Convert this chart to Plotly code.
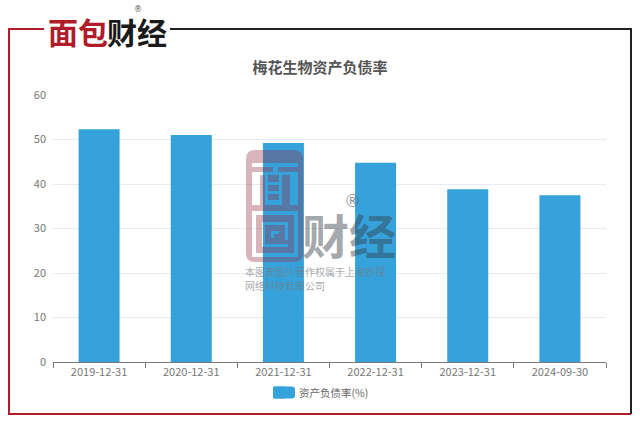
import plotly.graph_objects as go

categories = ["2019-12-31", "2020-12-31", "2021-12-31", "2022-12-31", "2023-12-31", "2024-09-30"]
debt_ratio = [52.3, 51.0, 49.2, 44.8, 38.8, 37.5]
series_name = "资产负债率(%)"
title = "梅花生物资产负债率"
y_ticks = [0, 10, 20, 30, 40, 50, 60]
FONT = "Noto Sans CJK SC, Noto Sans, sans-serif"
W, H = 640, 424
L, R, T, B = 53, 606, 95, 362
def px(x): return (x - L) / (R - L)
def py(y): return (B - y) / (B - T)

fig = go.Figure(go.Bar(x=categories, y=debt_ratio, name=series_name, marker=dict(color="#36a2dc", line_width=0)))

def line(x0, y0, x1, y1, color, width=2):
    return dict(type="line", xref="paper", yref="paper", x0=px(x0), y0=py(y0), x1=px(x1), y1=py(y1),
                line=dict(color=color, width=width), layer="above")
def rounded(x0, y0, x1, y1, r):
    return (f"M{px(x0+r)},{py(y0)} L{px(x1-r)},{py(y0)} Q{px(x1)},{py(y0)} {px(x1)},{py(y0+r)} "
            f"L{px(x1)},{py(y1-r)} Q{px(x1)},{py(y1)} {px(x1-r)},{py(y1)} L{px(x0+r)},{py(y1)} "
            f"Q{px(x0)},{py(y1)} {px(x0)},{py(y1-r)} L{px(x0)},{py(y0+r)} Q{px(x0)},{py(y0)} {px(x0+r)},{py(y0)} Z")
def rect(x0, y0, x1, y1):
    return f"M{px(x0)},{py(y0)} L{px(x1)},{py(y0)} L{px(x1)},{py(y1)} L{px(x0)},{py(y1)} Z"

RED = "#b01c2a"
PINK = "rgba(150,40,60,0.35)"
GREY = "rgba(50,60,70,0.45)"

# cut-outs of the watermark emblem (left, top, right, bottom in page pixels)
emblem_holes = [
    (252, 163, 298, 167), (273, 167, 278, 172), (252, 172, 298, 175),
    (252, 175, 260, 205), (290, 175, 298, 205),
    (265, 175, 268, 205), (282, 175, 282, 175), (279, 175, 282, 205),
    (268, 182, 279, 185), (268, 191, 279, 194), (268, 200, 279, 205),
    (252, 211, 298, 215), (252, 215, 256, 257), (294, 215, 298, 257), (256, 253, 294, 257),
    (262, 222, 288, 225), (262, 225, 265, 247), (285, 225, 288, 240),
    (265, 244, 288, 247), (271, 231, 279, 234), (271, 234, 274, 238),
]
emblem_path = rounded(246, 150, 303, 262, 9) + " " + " ".join(rect(*h) for h in emblem_holes)

shapes = [
    line(44, 29, 9, 29, RED), line(9, 28, 9, 415, RED), line(9, 414, 631, 414, RED),
    line(631, 414, 631, 29, "#222222"), line(170, 29, 632, 29, "#222222"),
    dict(type="path", xref="paper", yref="paper", path=rounded(273, 386.5, 295, 398.5, 3),
         fillcolor="#36a2dc", line_width=0, layer="above"),
    dict(type="path", xref="paper", yref="paper", path=emblem_path, fillcolor=PINK, fillrule="evenodd",
         line_width=0, layer="above"),
]

def note(text, x, y, size, color, family=FONT, anchor="center"):
    return dict(text=text, xref="paper", yref="paper", x=px(x), y=py(y), showarrow=False,
                font=dict(size=size, color=color, family=family), xanchor=anchor, yanchor="middle",
                borderpad=0, borderwidth=0)

annotations = [
    note("<b>面包</b>", 78, 31, 30, "#b01c2a"),
    note("<b>财经</b>", 137, 31, 30, "#1a1a1a"),
    note("®", 138, 9, 8, "#555555", family="DejaVu Sans"),
    note("<b>财经</b>", 349, 234, 47, GREY),
    note("®", 352, 201, 17, "rgba(90,90,90,0.65)", family="DejaVu Sans"),
    note("本图表图片著作权属于上海妙探", 245, 271, 10, "rgba(120,120,120,0.65)", anchor="left"),
    note("网络科技有限公司", 245, 285, 10, "rgba(120,120,120,0.65)", anchor="left"),
]

fig.update_layout(
    width=W, height=H, autosize=False,
    margin=dict(l=L, r=W - R, t=T, b=H - B),
    paper_bgcolor="white", plot_bgcolor="white",
    font=dict(family=FONT, color="#6e7079", size=11),
    title=dict(text=f"<b>{title}</b>", x=320 / W, xanchor="center", y=1 - 68 / H, yanchor="middle",
               font=dict(size=15, color="#555555", family=FONT)),
    bargap=0.555,
    showlegend=True,
    legend=dict(orientation="h", x=px(259), xanchor="left", y=py(392.5), yanchor="middle", itemwidth=30,
                bgcolor="rgba(0,0,0,0)", font=dict(size=10.5, color="#666666"), itemclick=False),
    shapes=shapes, annotations=annotations,
    xaxis=dict(type="category", showgrid=False, ticks="outside", ticklen=5, tickcolor="#7a7a7a",
               showline=True, linecolor="#7a7a7a", linewidth=1, tickson="boundaries",
               tickfont=dict(size=11, color="#777777")),
    yaxis=dict(range=[0, 60], tickvals=y_ticks, gridcolor="#e6ebf1", gridwidth=1, zeroline=False,
               showline=False, ticks="", ticklabelstandoff=6, tickfont=dict(size=11, color="#777777")),
)
fig.write_html("out.html", config=dict(displayModeBar=False),
               post_script="document.body.style.margin='0';document.documentElement.style.overflow='hidden';")
